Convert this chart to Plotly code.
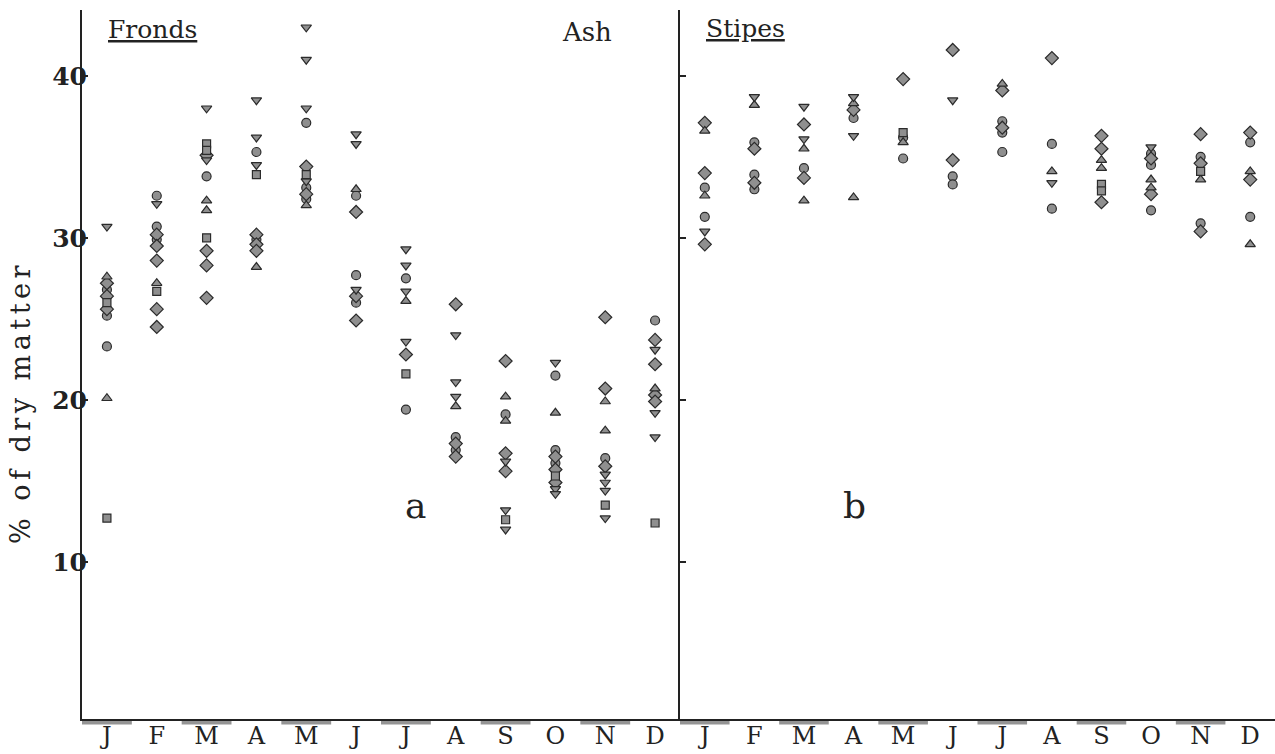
import plotly.graph_objects as go

MONTHS = ["J", "F", "M", "A", "M", "J", "J", "A", "S", "O", "N", "D"]
Y_TICKS = [10, 20, 30, 40]

# Ash, % of dry matter. Each series holds one list per month (Jan..Dec).
FRONDS_CIRCLE = [[26.8, 25.2, 23.3], [32.6, 30.7, 29.9], [33.8], [35.3, 29.9],
                 [37.1, 33.1, 32.4], [32.6, 27.7, 26.0], [27.5, 19.4], [17.7, 16.9],
                 [19.1], [21.5, 16.9, 16.1], [16.4], [24.9]]
FRONDS_DIAMOND = [[27.2, 26.4, 25.6], [30.2, 29.5, 28.6, 25.6, 24.5], [35.1, 29.2, 28.3, 26.3],
                  [30.2, 29.6, 29.2], [34.4, 32.7], [31.6, 26.4, 24.9], [22.8],
                  [25.9, 17.3, 16.5], [22.4, 16.7, 15.6], [16.5, 15.7, 14.9],
                  [25.1, 20.7, 15.9], [23.7, 22.2, 20.3, 19.9]]
FRONDS_TRI_UP = [[27.6, 20.1], [27.2], [32.3, 31.7], [28.2], [32.0], [33.0], [26.1],
                 [19.6], [20.2, 18.7], [19.2], [19.9, 18.1], [20.7]]
FRONDS_TRI_DOWN = [[30.7], [32.1], [38.0, 34.8], [38.5, 36.2, 34.5], [43.0, 41.0, 38.0, 33.5],
                   [36.4, 35.8, 26.8], [29.3, 28.3, 26.7, 23.6], [24.0, 21.1, 20.2],
                   [16.2, 13.2, 12.0], [22.3, 14.5, 14.2], [15.4, 14.9, 14.4, 12.7],
                   [23.1, 19.2, 17.7]]
FRONDS_SQUARE = [[26.0, 12.7], [26.7], [35.8, 35.4, 30.0], [33.9], [33.9], [], [21.6], [],
                 [12.6], [15.3], [13.5], [12.4]]

STIPES_CIRCLE = [[33.1, 31.3], [35.9, 33.9, 33.0], [34.3], [37.4], [36.2, 34.9], [33.8, 33.3],
                 [37.2, 36.5, 35.3], [35.8, 31.8], [], [35.2, 34.5, 31.7], [35.0, 30.9],
                 [35.9, 31.3]]
STIPES_DIAMOND = [[37.1, 34.0, 29.6], [35.5, 33.4], [37.0, 33.7], [37.9], [39.8], [41.6, 34.8],
                  [39.1, 36.8], [41.1], [36.3, 35.5, 32.2], [34.9, 32.7], [36.4, 34.6, 30.4],
                  [36.5, 33.6]]
STIPES_TRI_UP = [[36.6, 32.6], [38.2], [35.5, 32.3], [38.3, 32.5], [35.9], [], [39.5], [34.1],
                 [34.8, 34.3], [33.6, 33.1], [33.6], [34.1, 29.6]]
STIPES_TRI_DOWN = [[30.4], [38.7], [38.1, 36.1], [38.7, 36.3], [], [38.5], [], [33.4], [],
                   [35.6], [], []]
STIPES_SQUARE = [[], [], [], [], [36.5], [], [], [], [33.3, 32.9], [], [34.1], []]

SERIF = "DejaVu Serif"
INK = "#222222"
FILL = "#8f8f8f"

W, H = 1275, 754
X_SPLIT = 680 / W
X_LEFT = 82 / W
Y_DOM = [0.0464, 0.987]
PX_PER_UNIT = 16.2
Y_LOW = 0.3
Y_HIGH = Y_LOW + (Y_DOM[1] - Y_DOM[0]) * H / PX_PER_UNIT


def flatten(per_month):
    xs, ys = [], []
    for i, vals in enumerate(per_month, start=1):
        for v in vals:
            xs.append(i)
            ys.append(v)
    return xs, ys


MARKER_SIZES = {"circle": 9, "diamond": 10, "triangle-up": 9, "triangle-down": 9, "square": 8}

fig = go.Figure()

panels = [
    ("x", "y", [("circle", FRONDS_CIRCLE), ("diamond", FRONDS_DIAMOND),
                ("triangle-up", FRONDS_TRI_UP), ("triangle-down", FRONDS_TRI_DOWN),
                ("square", FRONDS_SQUARE)]),
    ("x2", "y2", [("circle", STIPES_CIRCLE), ("diamond", STIPES_DIAMOND),
                  ("triangle-up", STIPES_TRI_UP), ("triangle-down", STIPES_TRI_DOWN),
                  ("square", STIPES_SQUARE)]),
]

for xa, ya, series in panels:
    for symbol, data in series:
        xs, ys = flatten(data)
        fig.add_trace(go.Scatter(
            x=xs, y=ys, mode="markers", xaxis=xa, yaxis=ya, showlegend=False,
            marker=dict(symbol=symbol, size=MARKER_SIZES[symbol], color=FILL,
                        line=dict(color="#2b2b2b", width=1.2)),
            hoverinfo="x+y",
        ))

# shaded strips under the time axis for alternate months
shapes = []
for xref in ("x", "x2"):
    for m in range(1, 13, 2):
        shapes.append(dict(type="rect", xref=xref, yref="paper",
                           x0=m - 0.5, x1=m + 0.5, y0=Y_DOM[0] - 0.0072, y1=Y_DOM[0],
                           fillcolor="#949494", line=dict(width=0), layer="below"))

axis_x = dict(range=[0.5, 12.5], showline=True, linecolor=INK, linewidth=1.5,
              tickvals=list(range(1, 13)), ticktext=MONTHS, ticks="",
              ticklabelstandoff=-6, automargin=False,
              tickfont=dict(family=SERIF, size=24, color=INK),
              showgrid=False, zeroline=False, fixedrange=True)
axis_y = dict(domain=Y_DOM, range=[Y_LOW, Y_HIGH], showline=True, linecolor=INK, linewidth=2,
              ticks="inside", ticklen=6, tickwidth=1.5, tickcolor=INK, automargin=False,
              tickvals=Y_TICKS, showgrid=False, zeroline=False, fixedrange=True)


def label(text, x, y, size, **kw):
    return dict(text=text, x=x / W, y=1 - y / H, xref="paper", yref="paper",
                xanchor="center", yanchor="middle", showarrow=False,
                font=dict(family=SERIF, size=size, color=INK), **kw)


fig.update_layout(
    width=W, height=H,
    margin=dict(l=0, r=0, t=0, b=0, autoexpand=False),
    paper_bgcolor="white", plot_bgcolor="white",
    xaxis=dict(axis_x, domain=[X_LEFT, X_SPLIT], anchor="y"),
    xaxis2=dict(axis_x, domain=[X_SPLIT, 1.0], anchor="y2"),
    yaxis=dict(axis_y, anchor="x", ticktext=[f"<b>{t}</b>" for t in Y_TICKS],
               ticklabelstandoff=-12,
               tickfont=dict(family=SERIF, size=25, color=INK)),
    yaxis2=dict(axis_y, anchor="x2", showticklabels=False),
    shapes=shapes,
    annotations=[
        label("<u>Fronds</u>", 152, 30, 25),
        label("Ash", 587, 32, 26),
        label("<u>Stipes</u>", 745, 28, 25),
        label("a", 415, 505, 36),
        label("b", 855, 505, 36),
        label('<span style="letter-spacing:4.5px">% of dry matter</span>', 21, 403, 27,
              textangle=-90),
    ],
)

fig.write_html("out.html")
